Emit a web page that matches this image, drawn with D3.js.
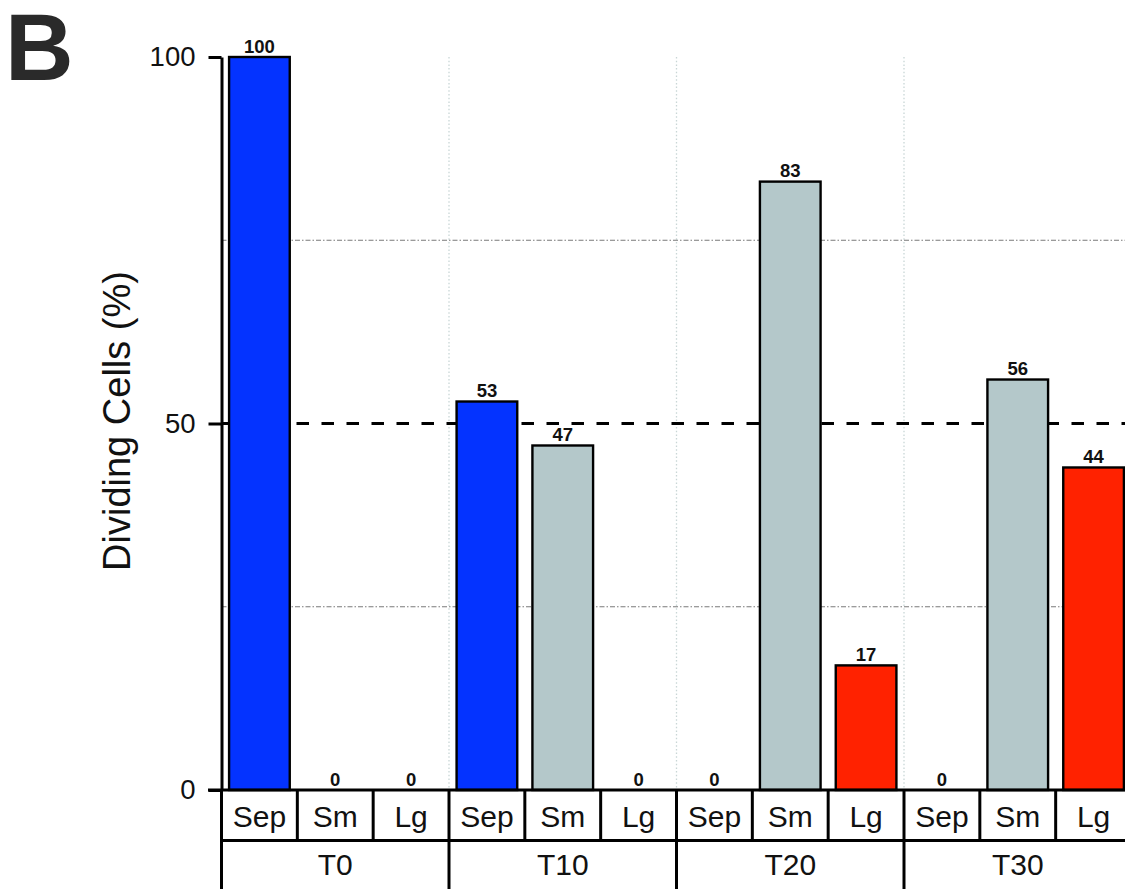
<!DOCTYPE html>
<html>
<head>
<meta charset="utf-8">
<script src="https://cdn.jsdelivr.net/npm/d3@7"></script>
<style>
  html, body { margin: 0; padding: 0; background: #fff; }
  svg { display: block; font-family: "Liberation Sans", Arial, sans-serif; }
</style>
</head>
<body>
<svg id="chart" width="1125" height="889"></svg>
<script>
// Time points and cell classes
const groups = ["T0", "T10", "T20", "T30"];
const subgroups = ["Sep", "Sm", "Lg"];

// Percentage of dividing cells per class at each time point
const sepValues = [100, 53, 0, 0];
const smValues = [0, 47, 83, 56];
const lgValues = [0, 0, 17, 44];

// Axis ticks and guide lines
const yTickValues = [0, 50, 100];
const gridValues = [25, 75];
const referenceLevel = 50;

const colors = { Sep: "#0433ff", Sm: "#b4c8ca", Lg: "#ff2200" };

const rows = [];
groups.forEach((g, i) => {
  rows.push({ group: g, sub: "Sep", value: sepValues[i] });
  rows.push({ group: g, sub: "Sm", value: smValues[i] });
  rows.push({ group: g, sub: "Lg", value: lgValues[i] });
});

const svg = d3.select("#chart");
const plotLeft = 221.5, groupW = 227.5, plotTop = 57, plotBottom = 790;

const x0 = d3.scaleBand().domain(groups).range([plotLeft, plotLeft + groups.length * groupW]);
const x1 = d3.scaleBand().domain(subgroups).range([0, x0.bandwidth()])
  .paddingInner(0.2).paddingOuter(0.1);
const y = d3.scaleLinear().domain([0, 100]).range([plotBottom, plotTop]);

// Vertical dotted separators between time points
svg.append("g").selectAll("line")
  .data(groups.slice(1))
  .join("line")
  .attr("x1", d => x0(d)).attr("x2", d => x0(d))
  .attr("y1", y(100)).attr("y2", plotBottom)
  .attr("stroke", "#c9d6d6").attr("stroke-width", 1.3)
  .attr("stroke-dasharray", "1.5,2.2");

// Dash-dot horizontal grid
svg.append("g").selectAll("line")
  .data(gridValues)
  .join("line")
  .attr("x1", plotLeft).attr("x2", 1125)
  .attr("y1", d => y(d)).attr("y2", d => y(d))
  .attr("stroke", "#7a7a7a").attr("stroke-width", 1)
  .attr("stroke-dasharray", "5,2,1.5,2");

// 50% reference line
svg.append("line")
  .attr("x1", plotLeft).attr("x2", 1125)
  .attr("y1", y(referenceLevel)).attr("y2", y(referenceLevel))
  .attr("stroke", "#000").attr("stroke-width", 3)
  .attr("stroke-dasharray", "12.5,12.5");

// Bars
svg.append("g").selectAll("rect")
  .data(rows.filter(d => d.value > 0))
  .join("rect")
  .attr("x", d => x0(d.group) + x1(d.sub))
  .attr("y", d => y(d.value))
  .attr("width", x1.bandwidth())
  .attr("height", d => y(0) - y(d.value))
  .attr("fill", d => colors[d.sub])
  .attr("stroke", "#000").attr("stroke-width", 2.4);

// Value labels
svg.append("g").selectAll("text")
  .data(rows)
  .join("text")
  .attr("x", d => x0(d.group) + x1(d.sub) + x1.bandwidth() / 2)
  .attr("y", d => y(d.value) - 4.5)
  .attr("text-anchor", "middle")
  .attr("font-size", 18.5).attr("font-weight", "bold").attr("fill", "#111")
  .text(d => d.value);

// Y axis
const yAxis = d3.axisLeft(y).tickValues(yTickValues).tickSize(13).tickSizeOuter(0).tickPadding(13);
const ag = svg.append("g").attr("transform", `translate(${plotLeft},0)`).call(yAxis);
ag.select(".domain").attr("stroke", "#000").attr("stroke-width", 3);
ag.selectAll(".tick line").attr("stroke", "#000").attr("stroke-width", 3);
ag.selectAll(".tick text").attr("font-size", 27.5).attr("fill", "#111")
  .attr("font-family", "Liberation Sans, Arial, sans-serif");

// Category table below the axis
const tableG = svg.append("g");
const row1Top = plotBottom, row1Bot = 840.5, row2Bot = 895;
const step = x1.step();
const cellEdges = [];
groups.forEach(g => { subgroups.forEach((s, i) => cellEdges.push(x0(g) + i * step)); });
cellEdges.push(x0.range()[1]);

tableG.selectAll("line.cell")
  .data(cellEdges)
  .join("line").attr("class", "cell")
  .attr("x1", d => d).attr("x2", d => d)
  .attr("y1", row1Top).attr("y2", row1Bot)
  .attr("stroke", "#000").attr("stroke-width", 3);

tableG.selectAll("line.grp")
  .data(groups.map(g => x0(g)).concat([x0.range()[1]]))
  .join("line").attr("class", "grp")
  .attr("x1", d => d).attr("x2", d => d)
  .attr("y1", row1Bot).attr("y2", row2Bot)
  .attr("stroke", "#000").attr("stroke-width", 3);

tableG.append("line")
  .attr("x1", 208).attr("x2", x0.range()[1])
  .attr("y1", row1Top).attr("y2", row1Top)
  .attr("stroke", "#000").attr("stroke-width", 3);
tableG.append("line")
  .attr("x1", plotLeft - 1.5).attr("x2", x0.range()[1])
  .attr("y1", row1Bot).attr("y2", row1Bot)
  .attr("stroke", "#000").attr("stroke-width", 3);

tableG.selectAll("text.sub")
  .data(rows)
  .join("text").attr("class", "sub")
  .attr("x", d => x0(d.group) + x1(d.sub) + x1.bandwidth() / 2)
  .attr("y", 826.5)
  .attr("text-anchor", "middle")
  .attr("font-size", 30).attr("fill", "#111")
  .text(d => d.sub);

tableG.selectAll("text.grp")
  .data(groups)
  .join("text").attr("class", "grp")
  .attr("x", d => x0(d) + x0.bandwidth() / 2)
  .attr("y", 875)
  .attr("text-anchor", "middle")
  .attr("font-size", 30).attr("fill", "#111")
  .text(d => d);

// Y axis title
svg.append("text")
  .attr("transform", "translate(130,421) rotate(-90)")
  .attr("text-anchor", "middle")
  .attr("font-size", 38).attr("fill", "#111")
  .text("Dividing Cells (%)");

// Panel letter
svg.append("text")
  .attr("x", 5).attr("y", 80)
  .attr("font-size", 95).attr("font-weight", "bold").attr("fill", "#2a2a2a")
  .text("B");
</script>
</body>
</html>
